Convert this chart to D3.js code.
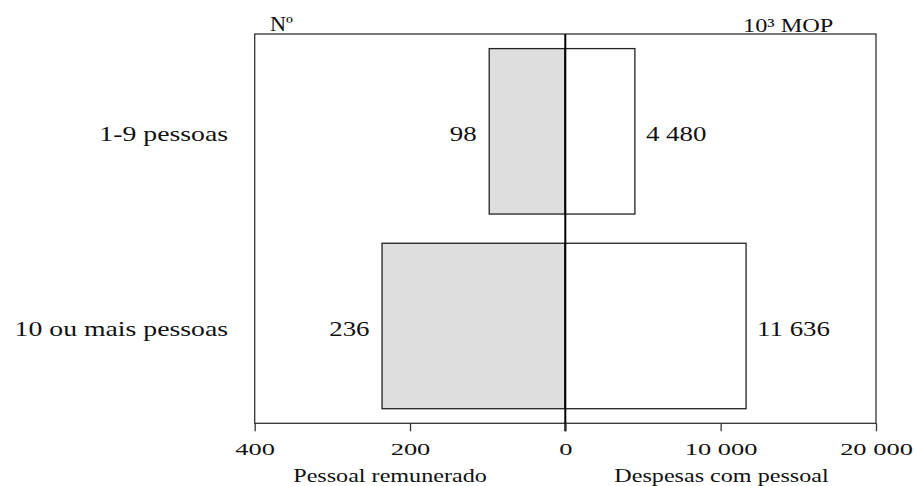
<!DOCTYPE html>
<html>
<head>
<meta charset="utf-8">
<script src="https://cdn.jsdelivr.net/npm/d3@7"></script>
<style>
  html, body { margin: 0; padding: 0; background: #fff; }
  svg { display: block; }
  text { font-family: "Liberation Serif", "Times New Roman", serif; fill: #111; }
</style>
</head>
<body>
<script>
// ---- data ----
const categories = ["1-9 pessoas", "10 ou mais pessoas"];
const pessoal = [98, 236];          // Nº
const despesas = [4480, 11636];     // 10³ MOP
const leftTicks = [400, 200, 0];
const rightTicks = [10000, 20000];
const leftTitle = "Pessoal remunerado";
const rightTitle = "Despesas com pessoal";
const leftUnit = "Nº";
const rightUnit = "10³ MOP";

// ---- layout ----
const W = 915, H = 486;
const L = 254.7, R = 876, T = 34, B = 423.3, C = 565.3;

const fmt = d3.formatLocale({decimal: ",", thousands: " ", grouping: [3], currency: ["", ""]}).format(",");

const svg = d3.select("body").append("svg").attr("width", W).attr("height", H);
svg.append("rect").attr("width", W).attr("height", H).attr("fill", "#fff");

const xL = d3.scaleLinear().domain([0, 400]).range([C, L]);
const xR = d3.scaleLinear().domain([0, 20000]).range([C, R]);
const y = d3.scaleBand().domain(categories).range([T, B]).paddingInner(0.15).paddingOuter(0.075);

function stext(g, str, x, yy, anchor, size, sx) {
  return g.append("text")
    .attr("transform", `translate(${x},${yy}) scale(${sx},1)`)
    .attr("text-anchor", anchor)
    .attr("font-size", size)
    .text(str);
}

// frame
svg.append("rect").attr("x", L).attr("y", T).attr("width", R - L).attr("height", B - T)
  .attr("fill", "none").attr("stroke", "#333").attr("stroke-width", 1.3);

// bars
svg.selectAll(".barL").data(categories).join("rect")
  .attr("class", "barL")
  .attr("x", (d, i) => xL(pessoal[i]))
  .attr("y", d => y(d))
  .attr("width", (d, i) => xL(0) - xL(pessoal[i]))
  .attr("height", y.bandwidth())
  .attr("fill", "#dedede").attr("stroke", "#222").attr("stroke-width", 1.3);

svg.selectAll(".barR").data(categories).join("rect")
  .attr("class", "barR")
  .attr("x", xR(0))
  .attr("y", d => y(d))
  .attr("width", (d, i) => xR(despesas[i]) - xR(0))
  .attr("height", y.bandwidth())
  .attr("fill", "#fff").attr("stroke", "#222").attr("stroke-width", 1.3);

// center line
svg.append("line").attr("x1", C).attr("x2", C).attr("y1", T).attr("y2", B + 8)
  .attr("stroke", "#000").attr("stroke-width", 2);

// axes
const axL = svg.append("g").attr("transform", `translate(0,${B})`)
  .call(d3.axisBottom(xL).tickValues(leftTicks).tickSize(8).tickSizeOuter(0).tickFormat(fmt));
const axR = svg.append("g").attr("transform", `translate(0,${B})`)
  .call(d3.axisBottom(xR).tickValues(rightTicks).tickSize(8).tickSizeOuter(0).tickFormat(fmt));
[axL, axR].forEach(ax => {
  ax.select(".domain").remove();
  ax.selectAll(".tick line").attr("stroke", "#333").attr("stroke-width", 1.3);
  ax.selectAll(".tick text")
    .attr("y", 0).attr("dy", 0)
    .attr("transform", "translate(0,31.7) scale(1.53,1)")
    .attr("font-size", 17.3)
    .attr("fill", "#111")
    .style("font-family", '"Liberation Serif", serif');
});

// category labels
categories.forEach((c, i) => {
  stext(svg, c, 228, y(c) + y.bandwidth() / 2 + 10, "end", 20.7, 1.34);
});

// value labels
categories.forEach((c, i) => {
  const yy = y(c) + y.bandwidth() / 2 + 10;
  stext(svg, fmt(pessoal[i]), xL(pessoal[i]) - 12.5, yy, "end", 21.5, 1.25);
  stext(svg, fmt(despesas[i]), xR(despesas[i]) + 11, yy, "start", 21.5, 1.25);
});

// axis titles
stext(svg, leftTitle, 390, 481.7, "middle", 19, 1.27);
stext(svg, rightTitle, 721.5, 481.7, "middle", 19, 1.27);

// units
stext(svg, leftUnit, 270, 31, "start", 21, 1.06);
stext(svg, rightUnit, 833.3, 32.3, "end", 18.7, 1.3);
</script>
</body>
</html>
